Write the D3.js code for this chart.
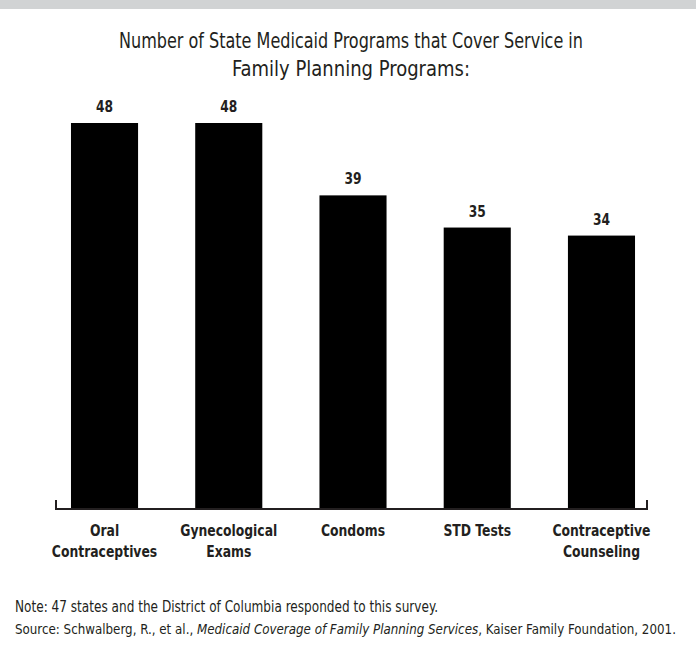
<!DOCTYPE html>
<html>
<head>
<meta charset="utf-8">
<script src="https://cdn.jsdelivr.net/npm/d3@7"></script>
<style>
  html, body { margin: 0; padding: 0; background: #fff; }
  svg { display: block; }
  text { font-family: "DejaVu Sans Condensed", "Liberation Sans Narrow", "Liberation Sans", sans-serif; fill: #231f20; }
</style>
</head>
<body>
<svg id="chart" width="696" height="646"></svg>
<script>
const categories = ["Oral Contraceptives", "Gynecological Exams", "Condoms", "STD Tests", "Contraceptive Counseling"];
const categoryLines = [["Oral", "Contraceptives"], ["Gynecological", "Exams"], ["Condoms"], ["STD Tests"], ["Contraceptive", "Counseling"]];
const values = [48, 48, 39, 35, 34];
const titleLines = ["Number of State Medicaid Programs that Cover Service in", "Family Planning Programs:"];
const noteText = "Note: 47 states and the District of Columbia responded to this survey.";
const sourceParts = [
  {t: "Source: Schwalberg, R., et al., ", i: false},
  {t: "Medicaid Coverage of Family Planning Services", i: true},
  {t: ", Kaiser Family Foundation, 2001.", i: false}
];

const svg = d3.select("#chart");

// condense a text horizontally by factor k
function squeeze(sel, k) {
  sel.each(function() {
    const w = this.getComputedTextLength();
    d3.select(this).attr("textLength", w * k).attr("lengthAdjust", "spacingAndGlyphs");
  });
}

// top gray band (cut-off header)
svg.append("rect").attr("x", 0).attr("y", 0).attr("width", 696).attr("height", 9).attr("fill", "#d1d3d4");

// title
titleLines.forEach((l, i) => {
  svg.append("text")
    .attr("x", 351).attr("y", 48 + i * 28)
    .attr("text-anchor", "middle")
    .attr("font-size", 22)
    .attr("textLength", i === 0 ? 464 : 238)
    .attr("lengthAdjust", "spacingAndGlyphs")
    .text(l);
});

const x = d3.scaleBand().domain(categories).range([42.4, 663.6]).paddingInner(0.46).paddingOuter(0.23);
const y = d3.scaleLinear().domain([0, 48]).range([509, 123]);

svg.append("g").selectAll("rect").data(categories).join("rect")
  .attr("x", d => x(d))
  .attr("y", (d, i) => y(values[i]))
  .attr("width", x.bandwidth())
  .attr("height", (d, i) => y(0) - y(values[i]))
  .attr("fill", "#000");

// value labels
const vl = svg.append("g").selectAll("text").data(categories).join("text")
  .attr("x", d => x(d) + x.bandwidth() / 2)
  .attr("y", (d, i) => y(values[i]) - 11)
  .attr("text-anchor", "middle")
  .attr("font-size", 16)
  .attr("font-weight", "bold")
  .text((d, i) => values[i]);
squeeze(vl, 0.85);

// axis baseline with end ticks
const axL = 56, axR = 647, axY = y(0);
svg.append("path")
  .attr("d", `M${axL},${axY - 9}V${axY}H${axR}V${axY - 9}`)
  .attr("fill", "none").attr("stroke", "#231f20").attr("stroke-width", 2);

// category labels
categories.forEach((c, i) => {
  const cx = x(c) + x.bandwidth() / 2;
  categoryLines[i].forEach((l, j) => {
    const t = svg.append("text")
      .attr("x", cx)
      .attr("y", 536 + j * 21)
      .attr("text-anchor", "middle")
      .attr("font-size", 16)
      .attr("font-weight", "bold")
      .text(l);
    squeeze(t, 0.86);
  });
});

// footnotes
svg.append("text").attr("x", 15).attr("y", 612).attr("font-size", 15)
  .attr("textLength", 423).attr("lengthAdjust", "spacingAndGlyphs").text(noteText);

// source line: separate pieces, font sized so the line spans the reference width
const srcG = svg.append("g");
const pieces = sourceParts.map(p => srcG.append("text")
  .attr("x", 0).attr("y", 634).attr("font-size", 15)
  .attr("font-style", p.i ? "italic" : "normal")
  .style("white-space", "pre")
  .text(p.t));
let total = d3.sum(pieces, s => s.node().getComputedTextLength());
const fs = 15 * 661 / total;
pieces.forEach(s => s.attr("font-size", fs));
let cursor = 15;
pieces.forEach(s => {
  s.attr("x", cursor);
  cursor += s.node().getComputedTextLength();
});
</script>
</body>
</html>
